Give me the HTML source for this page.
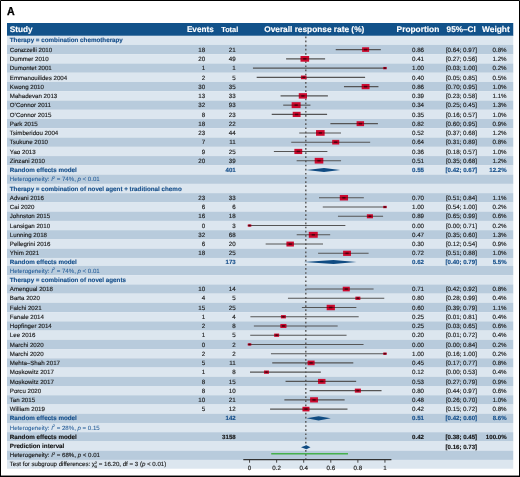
<!DOCTYPE html>
<html><head><meta charset="utf-8"><title>Forest plot A</title>
<style>
html,body{margin:0;padding:0;background:#fff;}
body{width:520px;height:477px;overflow:hidden;position:relative;}
svg{position:absolute;left:0;top:0;display:block;}
text{text-rendering:geometricPrecision;font-family:"Liberation Sans",sans-serif;font-size:6.2px;fill:#1a1a1a;stroke:#1a1a1a;stroke-width:0.14px;}
.n{font-size:6.15px;}
.t{font-size:6.12px;}
.bb{font-weight:700;fill:#17508b;font-size:6.25px;stroke:#17508b;}
.bl{fill:#245c98;stroke:#245c98;stroke-width:0.05px;font-size:6.1px;}
.kb{font-weight:700;fill:#111;font-size:6.25px;}
.bb.num,.kb.num{font-size:6.12px;}
.h{font-weight:700;fill:#fff;stroke:#fff;font-size:8.2px;}
.a{font-weight:700;fill:#000;stroke:#000;stroke-width:0.3px;font-size:11.6px;}
</style></head><body>
<svg width="520" height="477" viewBox="0 0 520 477">
<rect x="0" y="0" width="520" height="477" fill="#fff"/>
<g id="bg">
<rect x="7.0" y="23" width="506.25" height="13.00" fill="#12528a"/>
<rect x="7.0" y="35.700" width="506.25" height="9.310" fill="#dce6ef"/>
<rect x="7.0" y="44.960" width="506.25" height="9.310" fill="#b8cbdc"/>
<rect x="7.0" y="54.220" width="506.25" height="9.310" fill="#dce6ef"/>
<rect x="7.0" y="63.480" width="506.25" height="9.310" fill="#b8cbdc"/>
<rect x="7.0" y="72.740" width="506.25" height="9.310" fill="#dce6ef"/>
<rect x="7.0" y="82.000" width="506.25" height="9.310" fill="#b8cbdc"/>
<rect x="7.0" y="91.260" width="506.25" height="9.310" fill="#dce6ef"/>
<rect x="7.0" y="100.520" width="506.25" height="9.310" fill="#b8cbdc"/>
<rect x="7.0" y="109.780" width="506.25" height="9.310" fill="#dce6ef"/>
<rect x="7.0" y="119.040" width="506.25" height="9.310" fill="#b8cbdc"/>
<rect x="7.0" y="128.300" width="506.25" height="9.310" fill="#dce6ef"/>
<rect x="7.0" y="137.560" width="506.25" height="9.310" fill="#b8cbdc"/>
<rect x="7.0" y="146.820" width="506.25" height="9.310" fill="#dce6ef"/>
<rect x="7.0" y="156.080" width="506.25" height="9.310" fill="#b8cbdc"/>
<rect x="7.0" y="165.340" width="506.25" height="9.310" fill="#dce6ef"/>
<rect x="7.0" y="174.600" width="506.25" height="9.310" fill="#b8cbdc"/>
<rect x="7.0" y="183.860" width="506.25" height="9.310" fill="#dce6ef"/>
<rect x="7.0" y="193.120" width="506.25" height="9.310" fill="#b8cbdc"/>
<rect x="7.0" y="202.380" width="506.25" height="9.310" fill="#dce6ef"/>
<rect x="7.0" y="211.640" width="506.25" height="9.310" fill="#b8cbdc"/>
<rect x="7.0" y="220.900" width="506.25" height="9.310" fill="#dce6ef"/>
<rect x="7.0" y="230.160" width="506.25" height="9.310" fill="#b8cbdc"/>
<rect x="7.0" y="239.420" width="506.25" height="9.310" fill="#dce6ef"/>
<rect x="7.0" y="248.680" width="506.25" height="9.310" fill="#b8cbdc"/>
<rect x="7.0" y="257.940" width="506.25" height="8.060" fill="#dce6ef"/>
<rect x="7.0" y="265.950" width="506.25" height="9.285" fill="#b8cbdc"/>
<rect x="7.0" y="275.185" width="506.25" height="9.285" fill="#dce6ef"/>
<rect x="7.0" y="284.420" width="506.25" height="9.285" fill="#b8cbdc"/>
<rect x="7.0" y="293.655" width="506.25" height="9.285" fill="#dce6ef"/>
<rect x="7.0" y="302.890" width="506.25" height="9.285" fill="#b8cbdc"/>
<rect x="7.0" y="312.125" width="506.25" height="9.285" fill="#dce6ef"/>
<rect x="7.0" y="321.360" width="506.25" height="9.285" fill="#b8cbdc"/>
<rect x="7.0" y="330.595" width="506.25" height="9.285" fill="#dce6ef"/>
<rect x="7.0" y="339.830" width="506.25" height="9.285" fill="#b8cbdc"/>
<rect x="7.0" y="349.065" width="506.25" height="9.285" fill="#dce6ef"/>
<rect x="7.0" y="358.300" width="506.25" height="9.285" fill="#b8cbdc"/>
<rect x="7.0" y="367.535" width="506.25" height="9.285" fill="#dce6ef"/>
<rect x="7.0" y="376.770" width="506.25" height="9.285" fill="#b8cbdc"/>
<rect x="7.0" y="386.005" width="506.25" height="9.285" fill="#dce6ef"/>
<rect x="7.0" y="395.240" width="506.25" height="9.285" fill="#b8cbdc"/>
<rect x="7.0" y="404.475" width="506.25" height="9.285" fill="#dce6ef"/>
<rect x="7.0" y="413.710" width="506.25" height="9.285" fill="#b8cbdc"/>
<rect x="7.0" y="422.945" width="506.25" height="9.285" fill="#dce6ef"/>
<rect x="7.0" y="432.180" width="506.25" height="9.285" fill="#b8cbdc"/>
<rect x="7.0" y="441.415" width="506.25" height="9.285" fill="#dce6ef"/>
<rect x="7.0" y="450.650" width="506.25" height="9.285" fill="#b8cbdc"/>
<rect x="7.0" y="459.885" width="506.25" height="8.815" fill="#dce6ef"/>
</g>
<g id="plot">
<line x1="305.8" y1="36.45" x2="305.8" y2="459.6" stroke="#555" stroke-width="1.4" stroke-dasharray="1.7 2.435"/>
<line x1="335.74" y1="49.59" x2="380.82" y2="49.59" stroke="#555" stroke-width="1.1"/>
<rect x="362.10" y="47.26" width="7.02" height="4.65" fill="#cc0a2f"/>
<line x1="362.10" y1="49.59" x2="369.12" y2="49.59" stroke="#4a000c" stroke-opacity="0.55" stroke-width="1"/>
<rect x="364.03" y="48.79" width="3.16" height="1.6" fill="#3a0008" fill-opacity="0.8"/>
<line x1="286.10" y1="58.85" x2="325.09" y2="58.85" stroke="#555" stroke-width="1.1"/>
<rect x="300.52" y="56.00" width="8.60" height="5.70" fill="#cc0a2f"/>
<line x1="300.52" y1="58.85" x2="309.11" y2="58.85" stroke="#4a000c" stroke-opacity="0.55" stroke-width="1"/>
<rect x="303.22" y="58.05" width="3.20" height="1.6" fill="#3a0008" fill-opacity="0.8"/>
<line x1="252.94" y1="68.11" x2="384.95" y2="68.11" stroke="#555" stroke-width="1.1"/>
<rect x="383.19" y="66.95" width="3.51" height="2.33" fill="#cc0a2f"/>
<line x1="383.19" y1="68.11" x2="386.71" y2="68.11" stroke="#4a000c" stroke-opacity="0.55" stroke-width="1"/>
<rect x="384.16" y="67.31" width="1.58" height="1.6" fill="#3a0008" fill-opacity="0.8"/>
<line x1="256.69" y1="77.37" x2="365.10" y2="77.37" stroke="#555" stroke-width="1.1"/>
<rect x="300.93" y="75.53" width="5.55" height="3.68" fill="#cc0a2f"/>
<line x1="300.93" y1="77.37" x2="306.49" y2="77.37" stroke="#4a000c" stroke-opacity="0.55" stroke-width="1"/>
<rect x="302.46" y="76.57" width="2.50" height="1.6" fill="#3a0008" fill-opacity="0.8"/>
<line x1="343.98" y1="86.63" x2="378.44" y2="86.63" stroke="#555" stroke-width="1.1"/>
<rect x="361.68" y="84.03" width="7.85" height="5.20" fill="#cc0a2f"/>
<line x1="361.68" y1="86.63" x2="369.53" y2="86.63" stroke="#4a000c" stroke-opacity="0.55" stroke-width="1"/>
<rect x="364.01" y="85.83" width="3.20" height="1.6" fill="#3a0008" fill-opacity="0.8"/>
<line x1="280.57" y1="95.89" x2="327.89" y2="95.89" stroke="#555" stroke-width="1.1"/>
<rect x="298.77" y="93.16" width="8.23" height="5.45" fill="#cc0a2f"/>
<line x1="298.77" y1="95.89" x2="307.01" y2="95.89" stroke="#4a000c" stroke-opacity="0.55" stroke-width="1"/>
<rect x="301.29" y="95.09" width="3.20" height="1.6" fill="#3a0008" fill-opacity="0.8"/>
<line x1="283.21" y1="105.15" x2="310.45" y2="105.15" stroke="#555" stroke-width="1.1"/>
<rect x="291.66" y="102.19" width="8.95" height="5.93" fill="#cc0a2f"/>
<line x1="291.66" y1="105.15" x2="300.61" y2="105.15" stroke="#4a000c" stroke-opacity="0.55" stroke-width="1"/>
<rect x="294.54" y="104.35" width="3.20" height="1.6" fill="#3a0008" fill-opacity="0.8"/>
<line x1="271.72" y1="114.41" x2="327.09" y2="114.41" stroke="#555" stroke-width="1.1"/>
<rect x="292.72" y="111.81" width="7.85" height="5.20" fill="#cc0a2f"/>
<line x1="292.72" y1="114.41" x2="300.57" y2="114.41" stroke="#4a000c" stroke-opacity="0.55" stroke-width="1"/>
<rect x="295.05" y="113.61" width="3.20" height="1.6" fill="#3a0008" fill-opacity="0.8"/>
<line x1="330.40" y1="123.67" x2="377.93" y2="123.67" stroke="#555" stroke-width="1.1"/>
<rect x="356.61" y="121.20" width="7.45" height="4.93" fill="#cc0a2f"/>
<line x1="356.61" y1="123.67" x2="364.06" y2="123.67" stroke="#4a000c" stroke-opacity="0.55" stroke-width="1"/>
<rect x="358.73" y="122.87" width="3.20" height="1.6" fill="#3a0008" fill-opacity="0.8"/>
<line x1="299.23" y1="132.93" x2="341.00" y2="132.93" stroke="#555" stroke-width="1.1"/>
<rect x="316.03" y="130.08" width="8.60" height="5.70" fill="#cc0a2f"/>
<line x1="316.03" y1="132.93" x2="324.63" y2="132.93" stroke="#4a000c" stroke-opacity="0.55" stroke-width="1"/>
<rect x="318.73" y="132.13" width="3.20" height="1.6" fill="#3a0008" fill-opacity="0.8"/>
<line x1="291.24" y1="142.19" x2="370.16" y2="142.19" stroke="#555" stroke-width="1.1"/>
<rect x="332.20" y="139.86" width="7.02" height="4.65" fill="#cc0a2f"/>
<line x1="332.20" y1="142.19" x2="339.22" y2="142.19" stroke="#4a000c" stroke-opacity="0.55" stroke-width="1"/>
<rect x="334.13" y="141.39" width="3.16" height="1.6" fill="#3a0008" fill-opacity="0.8"/>
<line x1="273.88" y1="151.45" x2="327.38" y2="151.45" stroke="#555" stroke-width="1.1"/>
<rect x="294.37" y="148.85" width="7.85" height="5.20" fill="#cc0a2f"/>
<line x1="294.37" y1="151.45" x2="302.22" y2="151.45" stroke="#4a000c" stroke-opacity="0.55" stroke-width="1"/>
<rect x="296.69" y="150.65" width="3.20" height="1.6" fill="#3a0008" fill-opacity="0.8"/>
<line x1="296.64" y1="160.71" x2="341.06" y2="160.71" stroke="#555" stroke-width="1.1"/>
<rect x="314.69" y="157.86" width="8.60" height="5.70" fill="#cc0a2f"/>
<line x1="314.69" y1="160.71" x2="323.29" y2="160.71" stroke="#4a000c" stroke-opacity="0.55" stroke-width="1"/>
<rect x="317.39" y="159.91" width="3.20" height="1.6" fill="#3a0008" fill-opacity="0.8"/>
<polygon points="306.42,169.97 324.02,167.92 340.27,169.97 324.02,172.02" fill="#0f4b82"/>
<line x1="319.00" y1="197.75" x2="363.84" y2="197.75" stroke="#555" stroke-width="1.1"/>
<rect x="339.80" y="195.02" width="8.23" height="5.45" fill="#cc0a2f"/>
<line x1="339.80" y1="197.75" x2="348.04" y2="197.75" stroke="#4a000c" stroke-opacity="0.55" stroke-width="1"/>
<rect x="342.32" y="196.95" width="3.20" height="1.6" fill="#3a0008" fill-opacity="0.8"/>
<line x1="322.77" y1="207.01" x2="384.95" y2="207.01" stroke="#555" stroke-width="1.1"/>
<rect x="383.19" y="205.85" width="3.51" height="2.33" fill="#cc0a2f"/>
<line x1="383.19" y1="207.01" x2="386.71" y2="207.01" stroke="#4a000c" stroke-opacity="0.55" stroke-width="1"/>
<rect x="384.16" y="206.21" width="1.58" height="1.6" fill="#3a0008" fill-opacity="0.8"/>
<line x1="337.95" y1="216.27" x2="383.09" y2="216.27" stroke="#555" stroke-width="1.1"/>
<rect x="366.87" y="214.26" width="6.08" height="4.03" fill="#cc0a2f"/>
<line x1="366.87" y1="216.27" x2="372.95" y2="216.27" stroke="#4a000c" stroke-opacity="0.55" stroke-width="1"/>
<rect x="368.54" y="215.47" width="2.74" height="1.6" fill="#3a0008" fill-opacity="0.8"/>
<line x1="249.55" y1="225.53" x2="345.36" y2="225.53" stroke="#555" stroke-width="1.1"/>
<rect x="247.79" y="224.37" width="3.51" height="2.33" fill="#cc0a2f"/>
<line x1="247.79" y1="225.53" x2="251.31" y2="225.53" stroke="#4a000c" stroke-opacity="0.55" stroke-width="1"/>
<rect x="248.76" y="224.73" width="1.58" height="1.6" fill="#3a0008" fill-opacity="0.8"/>
<line x1="296.71" y1="234.79" x2="330.18" y2="234.79" stroke="#555" stroke-width="1.1"/>
<rect x="308.79" y="231.83" width="8.95" height="5.93" fill="#cc0a2f"/>
<line x1="308.79" y1="234.79" x2="317.74" y2="234.79" stroke="#4a000c" stroke-opacity="0.55" stroke-width="1"/>
<rect x="311.67" y="233.99" width="3.20" height="1.6" fill="#3a0008" fill-opacity="0.8"/>
<line x1="265.65" y1="244.05" x2="323.04" y2="244.05" stroke="#555" stroke-width="1.1"/>
<rect x="286.45" y="241.58" width="7.45" height="4.93" fill="#cc0a2f"/>
<line x1="286.45" y1="244.05" x2="293.89" y2="244.05" stroke="#4a000c" stroke-opacity="0.55" stroke-width="1"/>
<rect x="288.57" y="243.25" width="3.20" height="1.6" fill="#3a0008" fill-opacity="0.8"/>
<line x1="318.08" y1="253.31" x2="368.60" y2="253.31" stroke="#555" stroke-width="1.1"/>
<rect x="343.11" y="250.71" width="7.85" height="5.20" fill="#cc0a2f"/>
<line x1="343.11" y1="253.31" x2="350.96" y2="253.31" stroke="#4a000c" stroke-opacity="0.55" stroke-width="1"/>
<rect x="345.44" y="252.51" width="3.20" height="1.6" fill="#3a0008" fill-opacity="0.8"/>
<polygon points="303.71,261.94 333.50,259.89 356.52,261.94 333.50,264.00" fill="#0f4b82"/>
<line x1="306.28" y1="289.04" x2="373.59" y2="289.04" stroke="#555" stroke-width="1.1"/>
<rect x="342.75" y="286.71" width="7.02" height="4.65" fill="#cc0a2f"/>
<line x1="342.75" y1="289.04" x2="349.77" y2="289.04" stroke="#4a000c" stroke-opacity="0.55" stroke-width="1"/>
<rect x="344.68" y="288.24" width="3.16" height="1.6" fill="#3a0008" fill-opacity="0.8"/>
<line x1="287.95" y1="298.27" x2="384.27" y2="298.27" stroke="#555" stroke-width="1.1"/>
<rect x="355.39" y="296.63" width="4.96" height="3.29" fill="#cc0a2f"/>
<line x1="355.39" y1="298.27" x2="360.35" y2="298.27" stroke="#4a000c" stroke-opacity="0.55" stroke-width="1"/>
<rect x="356.75" y="297.47" width="2.23" height="1.6" fill="#3a0008" fill-opacity="0.8"/>
<line x1="301.90" y1="307.51" x2="356.35" y2="307.51" stroke="#555" stroke-width="1.1"/>
<rect x="326.67" y="304.78" width="8.23" height="5.45" fill="#cc0a2f"/>
<line x1="326.67" y1="307.51" x2="334.91" y2="307.51" stroke="#4a000c" stroke-opacity="0.55" stroke-width="1"/>
<rect x="329.19" y="306.71" width="3.20" height="1.6" fill="#3a0008" fill-opacity="0.8"/>
<line x1="250.40" y1="316.74" x2="358.67" y2="316.74" stroke="#555" stroke-width="1.1"/>
<rect x="280.92" y="315.10" width="4.96" height="3.29" fill="#cc0a2f"/>
<line x1="280.92" y1="316.74" x2="285.88" y2="316.74" stroke="#4a000c" stroke-opacity="0.55" stroke-width="1"/>
<rect x="282.28" y="315.94" width="2.23" height="1.6" fill="#3a0008" fill-opacity="0.8"/>
<line x1="253.86" y1="325.98" x2="337.68" y2="325.98" stroke="#555" stroke-width="1.1"/>
<rect x="280.36" y="323.96" width="6.08" height="4.03" fill="#cc0a2f"/>
<line x1="280.36" y1="325.98" x2="286.44" y2="325.98" stroke="#4a000c" stroke-opacity="0.55" stroke-width="1"/>
<rect x="282.03" y="325.18" width="2.74" height="1.6" fill="#3a0008" fill-opacity="0.8"/>
<line x1="250.23" y1="335.21" x2="346.55" y2="335.21" stroke="#555" stroke-width="1.1"/>
<rect x="274.15" y="333.57" width="4.96" height="3.29" fill="#cc0a2f"/>
<line x1="274.15" y1="335.21" x2="279.11" y2="335.21" stroke="#4a000c" stroke-opacity="0.55" stroke-width="1"/>
<rect x="275.51" y="334.41" width="2.23" height="1.6" fill="#3a0008" fill-opacity="0.8"/>
<line x1="249.55" y1="344.45" x2="363.54" y2="344.45" stroke="#555" stroke-width="1.1"/>
<rect x="247.79" y="343.28" width="3.51" height="2.33" fill="#cc0a2f"/>
<line x1="247.79" y1="344.45" x2="251.31" y2="344.45" stroke="#4a000c" stroke-opacity="0.55" stroke-width="1"/>
<rect x="248.76" y="343.65" width="1.58" height="1.6" fill="#3a0008" fill-opacity="0.8"/>
<line x1="270.96" y1="353.68" x2="384.95" y2="353.68" stroke="#555" stroke-width="1.1"/>
<rect x="383.19" y="352.52" width="3.51" height="2.33" fill="#cc0a2f"/>
<line x1="383.19" y1="353.68" x2="386.71" y2="353.68" stroke="#4a000c" stroke-opacity="0.55" stroke-width="1"/>
<rect x="384.16" y="352.88" width="1.58" height="1.6" fill="#3a0008" fill-opacity="0.8"/>
<line x1="272.23" y1="362.92" x2="353.29" y2="362.92" stroke="#555" stroke-width="1.1"/>
<rect x="307.58" y="360.59" width="7.02" height="4.65" fill="#cc0a2f"/>
<line x1="307.58" y1="362.92" x2="314.61" y2="362.92" stroke="#4a000c" stroke-opacity="0.55" stroke-width="1"/>
<rect x="309.52" y="362.12" width="3.16" height="1.6" fill="#3a0008" fill-opacity="0.8"/>
<line x1="249.98" y1="372.15" x2="320.84" y2="372.15" stroke="#555" stroke-width="1.1"/>
<rect x="263.99" y="370.51" width="4.96" height="3.29" fill="#cc0a2f"/>
<line x1="263.99" y1="372.15" x2="268.96" y2="372.15" stroke="#4a000c" stroke-opacity="0.55" stroke-width="1"/>
<rect x="265.36" y="371.35" width="2.23" height="1.6" fill="#3a0008" fill-opacity="0.8"/>
<line x1="285.55" y1="381.39" x2="356.15" y2="381.39" stroke="#555" stroke-width="1.1"/>
<rect x="318.04" y="378.92" width="7.45" height="4.93" fill="#cc0a2f"/>
<line x1="318.04" y1="381.39" x2="325.49" y2="381.39" stroke="#4a000c" stroke-opacity="0.55" stroke-width="1"/>
<rect x="320.16" y="380.59" width="3.20" height="1.6" fill="#3a0008" fill-opacity="0.8"/>
<line x1="309.65" y1="390.62" x2="381.54" y2="390.62" stroke="#555" stroke-width="1.1"/>
<rect x="354.83" y="388.61" width="6.08" height="4.03" fill="#cc0a2f"/>
<line x1="354.83" y1="390.62" x2="360.91" y2="390.62" stroke="#4a000c" stroke-opacity="0.55" stroke-width="1"/>
<rect x="356.50" y="389.82" width="2.74" height="1.6" fill="#3a0008" fill-opacity="0.8"/>
<line x1="284.37" y1="399.86" x2="344.63" y2="399.86" stroke="#555" stroke-width="1.1"/>
<rect x="310.10" y="397.26" width="7.85" height="5.20" fill="#cc0a2f"/>
<line x1="310.10" y1="399.86" x2="317.95" y2="399.86" stroke="#4a000c" stroke-opacity="0.55" stroke-width="1"/>
<rect x="312.43" y="399.06" width="3.20" height="1.6" fill="#3a0008" fill-opacity="0.8"/>
<line x1="270.08" y1="409.09" x2="347.49" y2="409.09" stroke="#555" stroke-width="1.1"/>
<rect x="302.46" y="406.77" width="7.02" height="4.65" fill="#cc0a2f"/>
<line x1="302.46" y1="409.09" x2="309.48" y2="409.09" stroke="#4a000c" stroke-opacity="0.55" stroke-width="1"/>
<rect x="304.39" y="408.29" width="3.16" height="1.6" fill="#3a0008" fill-opacity="0.8"/>
<polygon points="306.42,418.33 318.60,416.28 330.79,418.33 318.60,420.38" fill="#0f4b82"/>
<polygon points="301.00,447.20 306.42,445.20 310.48,447.20 306.42,449.20" fill="#0f4b82"/>
<line x1="271.21" y1="453.8" x2="347.99" y2="453.8" stroke="#45b04c" stroke-width="1.5"/>
<line x1="243.3" y1="459.55" x2="391.4" y2="459.55" stroke="#333" stroke-width="1.2"/>
<line x1="249.55" y1="459.5" x2="249.55" y2="462.7" stroke="#333" stroke-width="0.9"/>
<line x1="276.63" y1="459.5" x2="276.63" y2="462.7" stroke="#333" stroke-width="0.9"/>
<line x1="303.71" y1="459.5" x2="303.71" y2="462.7" stroke="#333" stroke-width="0.9"/>
<line x1="330.79" y1="459.5" x2="330.79" y2="462.7" stroke="#333" stroke-width="0.9"/>
<line x1="357.87" y1="459.5" x2="357.87" y2="462.7" stroke="#333" stroke-width="0.9"/>
<line x1="384.95" y1="459.5" x2="384.95" y2="462.7" stroke="#333" stroke-width="0.9"/>
</g>
<g id="header">
<text x="9.7" y="32.0" class="h">Study</text>
<text x="186.9" y="32.0" class="h">Events</text>
<text x="221.2" y="32.2" class="h" style="font-size:7.35px">Total</text>
<text x="314.25" y="32.0" class="h" style="font-size:8.3px" text-anchor="middle">Overall response rate (%)</text>
<text x="396.6" y="32.0" class="h" style="font-size:8.35px">Proportion</text>
<text x="446.6" y="32.0" class="h">95%–CI</text>
<text x="482.0" y="32.0" class="h" style="font-size:8.4px">Weight</text>
</g>
<text transform="translate(6.95,14.7) scale(0.92,1)" class="a">A</text>
<g id="labels">
<text x="9.80" y="42.48" class="bb">Therapy = combination chemotherapy</text>
<text x="9.80" y="51.74" class="n">Corazzelli 2010</text>
<text x="205.10" y="51.74" text-anchor="end">18</text>
<text x="235.70" y="51.74" text-anchor="end">21</text>
<text x="418.00" y="51.74" text-anchor="middle">0.86</text>
<text x="445.90" y="51.74">[0.64; 0.97]</text>
<text x="506.60" y="51.74" text-anchor="end">0.8%</text>
<text x="9.80" y="61.00" class="n">Dummer 2010</text>
<text x="205.10" y="61.00" text-anchor="end">20</text>
<text x="235.70" y="61.00" text-anchor="end">49</text>
<text x="418.00" y="61.00" text-anchor="middle">0.41</text>
<text x="445.90" y="61.00">[0.27; 0.56]</text>
<text x="506.60" y="61.00" text-anchor="end">1.2%</text>
<text x="9.80" y="70.26" class="n">Dumontet 2001</text>
<text x="205.10" y="70.26" text-anchor="end">1</text>
<text x="235.70" y="70.26" text-anchor="end">1</text>
<text x="418.00" y="70.26" text-anchor="middle">1.00</text>
<text x="445.90" y="70.26">[0.03; 1.00]</text>
<text x="506.60" y="70.26" text-anchor="end">0.2%</text>
<text x="9.80" y="79.52" class="n">Emmanouilides 2004</text>
<text x="205.10" y="79.52" text-anchor="end">2</text>
<text x="235.70" y="79.52" text-anchor="end">5</text>
<text x="418.00" y="79.52" text-anchor="middle">0.40</text>
<text x="445.90" y="79.52">[0.05; 0.85]</text>
<text x="506.60" y="79.52" text-anchor="end">0.5%</text>
<text x="9.80" y="88.78" class="n">Kwong 2010</text>
<text x="205.10" y="88.78" text-anchor="end">30</text>
<text x="235.70" y="88.78" text-anchor="end">35</text>
<text x="418.00" y="88.78" text-anchor="middle">0.86</text>
<text x="445.90" y="88.78">[0.70; 0.95]</text>
<text x="506.60" y="88.78" text-anchor="end">1.0%</text>
<text x="9.80" y="98.04" class="n">Mahadevan 2013</text>
<text x="205.10" y="98.04" text-anchor="end">13</text>
<text x="235.70" y="98.04" text-anchor="end">33</text>
<text x="418.00" y="98.04" text-anchor="middle">0.39</text>
<text x="445.90" y="98.04">[0.23; 0.58]</text>
<text x="506.60" y="98.04" text-anchor="end">1.1%</text>
<text x="9.80" y="107.30" class="n">O’Connor 2011</text>
<text x="205.10" y="107.30" text-anchor="end">32</text>
<text x="235.70" y="107.30" text-anchor="end">93</text>
<text x="418.00" y="107.30" text-anchor="middle">0.34</text>
<text x="445.90" y="107.30">[0.25; 0.45]</text>
<text x="506.60" y="107.30" text-anchor="end">1.3%</text>
<text x="9.80" y="116.56" class="n">O’Connor 2015</text>
<text x="205.10" y="116.56" text-anchor="end">8</text>
<text x="235.70" y="116.56" text-anchor="end">23</text>
<text x="418.00" y="116.56" text-anchor="middle">0.35</text>
<text x="445.90" y="116.56">[0.16; 0.57]</text>
<text x="506.60" y="116.56" text-anchor="end">1.0%</text>
<text x="9.80" y="125.82" class="n">Park 2015</text>
<text x="205.10" y="125.82" text-anchor="end">18</text>
<text x="235.70" y="125.82" text-anchor="end">22</text>
<text x="418.00" y="125.82" text-anchor="middle">0.82</text>
<text x="445.90" y="125.82">[0.60; 0.95]</text>
<text x="506.60" y="125.82" text-anchor="end">0.9%</text>
<text x="9.80" y="135.08" class="n">Tsimberidou 2004</text>
<text x="205.10" y="135.08" text-anchor="end">23</text>
<text x="235.70" y="135.08" text-anchor="end">44</text>
<text x="418.00" y="135.08" text-anchor="middle">0.52</text>
<text x="445.90" y="135.08">[0.37; 0.68]</text>
<text x="506.60" y="135.08" text-anchor="end">1.2%</text>
<text x="9.80" y="144.34" class="n">Tsukune 2010</text>
<text x="205.10" y="144.34" text-anchor="end">7</text>
<text x="235.70" y="144.34" text-anchor="end">11</text>
<text x="418.00" y="144.34" text-anchor="middle">0.64</text>
<text x="445.90" y="144.34">[0.31; 0.89]</text>
<text x="506.60" y="144.34" text-anchor="end">0.8%</text>
<text x="9.80" y="153.60" class="n">Yao 2013</text>
<text x="205.10" y="153.60" text-anchor="end">9</text>
<text x="235.70" y="153.60" text-anchor="end">25</text>
<text x="418.00" y="153.60" text-anchor="middle">0.36</text>
<text x="445.90" y="153.60">[0.18; 0.57]</text>
<text x="506.60" y="153.60" text-anchor="end">1.0%</text>
<text x="9.80" y="162.86" class="n">Zinzani 2010</text>
<text x="205.10" y="162.86" text-anchor="end">20</text>
<text x="235.70" y="162.86" text-anchor="end">39</text>
<text x="418.00" y="162.86" text-anchor="middle">0.51</text>
<text x="445.90" y="162.86">[0.35; 0.68]</text>
<text x="506.60" y="162.86" text-anchor="end">1.2%</text>
<text x="9.80" y="172.12" class="bb">Random effects model</text>
<text x="235.70" y="172.12" text-anchor="end" class="bb num">401</text>
<text x="418.00" y="172.12" text-anchor="middle" class="bb num">0.55</text>
<text x="445.50" y="172.12" class="bb num">[0.42; 0.67]</text>
<text x="506.60" y="172.12" text-anchor="end" class="bb num">12.2%</text>
<text x="9.80" y="181.38" class="bl">Heterogeneity: <tspan font-style="italic">I</tspan><tspan font-size="3.9" dy="-2.3">2</tspan><tspan dy="2.3"> = 74%, </tspan><tspan font-style="italic">p</tspan> &lt; 0.01</text>
<text x="9.80" y="190.64" class="bb">Therapy = combination of novel agent + traditional chemo</text>
<text x="9.80" y="199.90" class="n">Advani 2016</text>
<text x="205.10" y="199.90" text-anchor="end">23</text>
<text x="235.70" y="199.90" text-anchor="end">33</text>
<text x="418.00" y="199.90" text-anchor="middle">0.70</text>
<text x="445.90" y="199.90">[0.51; 0.84]</text>
<text x="506.60" y="199.90" text-anchor="end">1.1%</text>
<text x="9.80" y="209.16" class="n">Cai 2020</text>
<text x="205.10" y="209.16" text-anchor="end">6</text>
<text x="235.70" y="209.16" text-anchor="end">6</text>
<text x="418.00" y="209.16" text-anchor="middle">1.00</text>
<text x="445.90" y="209.16">[0.54; 1.00]</text>
<text x="506.60" y="209.16" text-anchor="end">0.2%</text>
<text x="9.80" y="218.42" class="n">Johnston 2015</text>
<text x="205.10" y="218.42" text-anchor="end">16</text>
<text x="235.70" y="218.42" text-anchor="end">18</text>
<text x="418.00" y="218.42" text-anchor="middle">0.89</text>
<text x="445.90" y="218.42">[0.65; 0.99]</text>
<text x="506.60" y="218.42" text-anchor="end">0.6%</text>
<text x="9.80" y="227.68" class="n">Lansigan 2010</text>
<text x="205.10" y="227.68" text-anchor="end">0</text>
<text x="235.70" y="227.68" text-anchor="end">3</text>
<text x="418.00" y="227.68" text-anchor="middle">0.00</text>
<text x="445.90" y="227.68">[0.00; 0.71]</text>
<text x="506.60" y="227.68" text-anchor="end">0.2%</text>
<text x="9.80" y="236.94" class="n">Lunning 2018</text>
<text x="205.10" y="236.94" text-anchor="end">32</text>
<text x="235.70" y="236.94" text-anchor="end">68</text>
<text x="418.00" y="236.94" text-anchor="middle">0.47</text>
<text x="445.90" y="236.94">[0.35; 0.60]</text>
<text x="506.60" y="236.94" text-anchor="end">1.3%</text>
<text x="9.80" y="246.20" class="n">Pellegrini 2016</text>
<text x="205.10" y="246.20" text-anchor="end">6</text>
<text x="235.70" y="246.20" text-anchor="end">20</text>
<text x="418.00" y="246.20" text-anchor="middle">0.30</text>
<text x="445.90" y="246.20">[0.12; 0.54]</text>
<text x="506.60" y="246.20" text-anchor="end">0.9%</text>
<text x="9.80" y="255.46" class="n">Yhim 2021</text>
<text x="205.10" y="255.46" text-anchor="end">18</text>
<text x="235.70" y="255.46" text-anchor="end">25</text>
<text x="418.00" y="255.46" text-anchor="middle">0.72</text>
<text x="445.90" y="255.46">[0.51; 0.88]</text>
<text x="506.60" y="255.46" text-anchor="end">1.0%</text>
<text x="9.80" y="264.09" class="bb">Random effects model</text>
<text x="235.70" y="264.09" text-anchor="end" class="bb num">173</text>
<text x="418.00" y="264.09" text-anchor="middle" class="bb num">0.62</text>
<text x="445.50" y="264.09" class="bb num">[0.40; 0.79]</text>
<text x="506.60" y="264.09" text-anchor="end" class="bb num">5.5%</text>
<text x="9.80" y="272.72" class="bl">Heterogeneity: <tspan font-style="italic">I</tspan><tspan font-size="3.9" dy="-2.3">2</tspan><tspan dy="2.3"> = 74%, </tspan><tspan font-style="italic">p</tspan> &lt; 0.01</text>
<text x="9.80" y="281.95" class="bb">Therapy = combination of novel agents</text>
<text x="9.80" y="291.19" class="n">Amengual 2018</text>
<text x="205.10" y="291.19" text-anchor="end">10</text>
<text x="235.70" y="291.19" text-anchor="end">14</text>
<text x="418.00" y="291.19" text-anchor="middle">0.71</text>
<text x="445.90" y="291.19">[0.42; 0.92]</text>
<text x="506.60" y="291.19" text-anchor="end">0.8%</text>
<text x="9.80" y="300.42" class="n">Barta 2020</text>
<text x="205.10" y="300.42" text-anchor="end">4</text>
<text x="235.70" y="300.42" text-anchor="end">5</text>
<text x="418.00" y="300.42" text-anchor="middle">0.80</text>
<text x="445.90" y="300.42">[0.28; 0.99]</text>
<text x="506.60" y="300.42" text-anchor="end">0.4%</text>
<text x="9.80" y="309.66" class="n">Falchi 2021</text>
<text x="205.10" y="309.66" text-anchor="end">15</text>
<text x="235.70" y="309.66" text-anchor="end">25</text>
<text x="418.00" y="309.66" text-anchor="middle">0.60</text>
<text x="445.90" y="309.66">[0.39; 0.79]</text>
<text x="506.60" y="309.66" text-anchor="end">1.1%</text>
<text x="9.80" y="318.89" class="n">Fanale 2014</text>
<text x="205.10" y="318.89" text-anchor="end">1</text>
<text x="235.70" y="318.89" text-anchor="end">4</text>
<text x="418.00" y="318.89" text-anchor="middle">0.25</text>
<text x="445.90" y="318.89">[0.01; 0.81]</text>
<text x="506.60" y="318.89" text-anchor="end">0.4%</text>
<text x="9.80" y="328.13" class="n">Hopfinger 2014</text>
<text x="205.10" y="328.13" text-anchor="end">2</text>
<text x="235.70" y="328.13" text-anchor="end">8</text>
<text x="418.00" y="328.13" text-anchor="middle">0.25</text>
<text x="445.90" y="328.13">[0.03; 0.65]</text>
<text x="506.60" y="328.13" text-anchor="end">0.6%</text>
<text x="9.80" y="337.36" class="n">Lee 2016</text>
<text x="205.10" y="337.36" text-anchor="end">1</text>
<text x="235.70" y="337.36" text-anchor="end">5</text>
<text x="418.00" y="337.36" text-anchor="middle">0.20</text>
<text x="445.90" y="337.36">[0.01; 0.72]</text>
<text x="506.60" y="337.36" text-anchor="end">0.4%</text>
<text x="9.80" y="346.60" class="n">Marchi 2020</text>
<text x="205.10" y="346.60" text-anchor="end">0</text>
<text x="235.70" y="346.60" text-anchor="end">2</text>
<text x="418.00" y="346.60" text-anchor="middle">0.00</text>
<text x="445.90" y="346.60">[0.00; 0.84]</text>
<text x="506.60" y="346.60" text-anchor="end">0.2%</text>
<text x="9.80" y="355.83" class="n">Marchi 2020</text>
<text x="205.10" y="355.83" text-anchor="end">2</text>
<text x="235.70" y="355.83" text-anchor="end">2</text>
<text x="418.00" y="355.83" text-anchor="middle">1.00</text>
<text x="445.90" y="355.83">[0.16; 1.00]</text>
<text x="506.60" y="355.83" text-anchor="end">0.2%</text>
<text x="9.80" y="365.07" class="n">Mehta–Shah 2017</text>
<text x="205.10" y="365.07" text-anchor="end">5</text>
<text x="235.70" y="365.07" text-anchor="end">11</text>
<text x="418.00" y="365.07" text-anchor="middle">0.45</text>
<text x="445.90" y="365.07">[0.17; 0.77]</text>
<text x="506.60" y="365.07" text-anchor="end">0.8%</text>
<text x="9.80" y="374.30" class="n">Moskowitz 2017</text>
<text x="205.10" y="374.30" text-anchor="end">1</text>
<text x="235.70" y="374.30" text-anchor="end">8</text>
<text x="418.00" y="374.30" text-anchor="middle">0.12</text>
<text x="445.90" y="374.30">[0.00; 0.53]</text>
<text x="506.60" y="374.30" text-anchor="end">0.4%</text>
<text x="9.80" y="383.54" class="n">Moskowitz 2017</text>
<text x="205.10" y="383.54" text-anchor="end">8</text>
<text x="235.70" y="383.54" text-anchor="end">15</text>
<text x="418.00" y="383.54" text-anchor="middle">0.53</text>
<text x="445.90" y="383.54">[0.27; 0.79]</text>
<text x="506.60" y="383.54" text-anchor="end">0.9%</text>
<text x="9.80" y="392.77" class="n">Porcu 2020</text>
<text x="205.10" y="392.77" text-anchor="end">8</text>
<text x="235.70" y="392.77" text-anchor="end">10</text>
<text x="418.00" y="392.77" text-anchor="middle">0.80</text>
<text x="445.90" y="392.77">[0.44; 0.97]</text>
<text x="506.60" y="392.77" text-anchor="end">0.6%</text>
<text x="9.80" y="402.01" class="n">Tan 2015</text>
<text x="205.10" y="402.01" text-anchor="end">10</text>
<text x="235.70" y="402.01" text-anchor="end">21</text>
<text x="418.00" y="402.01" text-anchor="middle">0.48</text>
<text x="445.90" y="402.01">[0.26; 0.70]</text>
<text x="506.60" y="402.01" text-anchor="end">1.0%</text>
<text x="9.80" y="411.24" class="n">William 2019</text>
<text x="205.10" y="411.24" text-anchor="end">5</text>
<text x="235.70" y="411.24" text-anchor="end">12</text>
<text x="418.00" y="411.24" text-anchor="middle">0.42</text>
<text x="445.90" y="411.24">[0.15; 0.72]</text>
<text x="506.60" y="411.24" text-anchor="end">0.8%</text>
<text x="9.80" y="420.48" class="bb">Random effects model</text>
<text x="235.70" y="420.48" text-anchor="end" class="bb num">142</text>
<text x="418.00" y="420.48" text-anchor="middle" class="bb num">0.51</text>
<text x="445.50" y="420.48" class="bb num">[0.42; 0.60]</text>
<text x="506.60" y="420.48" text-anchor="end" class="bb num">8.6%</text>
<text x="9.80" y="429.71" class="bl">Heterogeneity: <tspan font-style="italic">I</tspan><tspan font-size="3.9" dy="-2.3">2</tspan><tspan dy="2.3"> = 28%, </tspan><tspan font-style="italic">p</tspan> = 0.15</text>
<text x="9.80" y="438.95" class="kb">Random effects model</text>
<text x="235.70" y="438.95" text-anchor="end" class="kb num">3158</text>
<text x="418.00" y="438.95" text-anchor="middle" class="kb num">0.42</text>
<text x="445.50" y="438.95" class="kb num">[0.38; 0.45]</text>
<text x="506.60" y="438.95" text-anchor="end" class="kb num">100.0%</text>
<text x="9.80" y="448.18" class="kb">Prediction interval</text>
<text x="445.50" y="449.38" class="kb num">[0.16; 0.73]</text>
<text x="9.80" y="457.42" class="t">Heterogeneity: <tspan font-style="italic">I</tspan><tspan font-size="3.9" dy="-2.3">2</tspan><tspan dy="2.3"> = 68%, </tspan><tspan font-style="italic">p</tspan> &lt; 0.01</text>
<text x="9.80" y="466.44" class="t">Test for subgroup differences: χ<tspan font-size="3.6" dy="-2.4">2</tspan><tspan font-size="3.6" dx="-2" dy="4">3</tspan><tspan dy="-1.6"> = 16.20, df = 3 (</tspan><tspan font-style="italic">p</tspan> &lt; 0.01)</text>
<text x="249.55" y="470.2" text-anchor="middle">0</text>
<text x="276.63" y="470.2" text-anchor="middle">0.2</text>
<text x="303.71" y="470.2" text-anchor="middle">0.4</text>
<text x="330.79" y="470.2" text-anchor="middle">0.6</text>
<text x="357.87" y="470.2" text-anchor="middle">0.8</text>
<text x="384.95" y="470.2" text-anchor="middle">1</text>
</g>
<path d="M0.5,0.5 H519.5 V476.3 H0.5 Z" fill="none" stroke="#000" stroke-width="1"/>
<rect x="0" y="475.7" width="520" height="1.3" fill="#000"/>
</svg>
</body></html>
